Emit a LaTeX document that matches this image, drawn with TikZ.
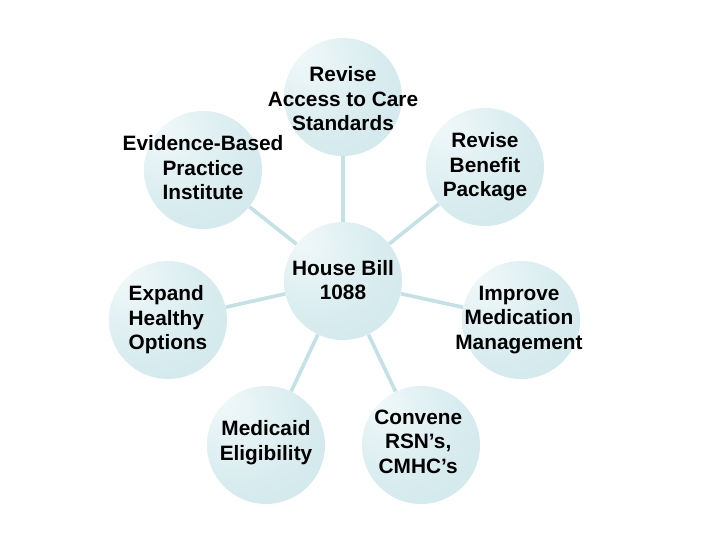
\documentclass[tikz,border=0pt]{standalone}
\usepackage{fontspec}
\setmainfont{Liberation Sans}
\definecolor{bubblehi}{RGB}{240,248,249}
\definecolor{bubblemid}{RGB}{216,236,239}
\definecolor{bubblelo}{RGB}{192,223,228}
\definecolor{spokecol}{RGB}{196,225,229}
\pgfdeclareradialshading{bubbleshade}{\pgfpoint{-18bp}{18bp}}{%
  color(0bp)=(bubblehi); color(28bp)=(bubblemid); color(78bp)=(bubblelo)}
\tikzset{
  bubble/.style={circle, minimum size=2.95cm, inner sep=0pt, shading=bubbleshade},
  caption/.style={font=\fontsize{14.8}{17.4}\selectfont\bfseries, align=center, inner sep=0pt},
  spoke/.style={draw=spokecol, line width=2.6pt}
}
\begin{document}
\begin{tikzpicture}
	\useasboundingbox (0,0) rectangle (18,13.5);
	% circles
	\node[bubble] (hub) at (8.575,6.475) {};
	\node[bubble] (access) at (8.575,11.075) {};
	\node[bubble] (evidence) at (5.075,9.25) {};
	\node[bubble] (benefit) at (12.125,9.325) {};
	\node[bubble] (expand) at (4.2,5.5) {};
	\node[bubble] (medication) at (13.025,5.5) {};
	\node[bubble] (medicaid) at (6.65,2.375) {};
	\node[bubble] (convene) at (10.525,2.375) {};
	\foreach \n in {access,evidence,benefit,expand,medication,medicaid,convene}
		\draw[spoke] (hub) -- (\n);
	% texts
	\node[caption] at ([yshift=-0.05cm]access) {Revise\\Access to Care\\Standards};
	\node[caption] at ([yshift=0.05cm]evidence) {Evidence-Based\\Practice\\Institute};
	\node[caption] at (benefit) {Revise\\Benefit\\Package};
	\node[caption, align=left] at (expand) {Expand\\Healthy\\Options};
	\node[caption] at ([xshift=-0.05cm]medication) {Improve\\Medication\\Management};
	\node[caption] at ([yshift=0.03cm]hub) {House Bill\\1088};
	\node[caption] at ([yshift=0.06cm]medicaid) {Medicaid\\Eligibility};
	\node[caption] at ([xshift=-0.07cm,yshift=0.08cm]convene) {Convene\\RSN's,\\CMHC's};
\end{tikzpicture}
\end{document}
